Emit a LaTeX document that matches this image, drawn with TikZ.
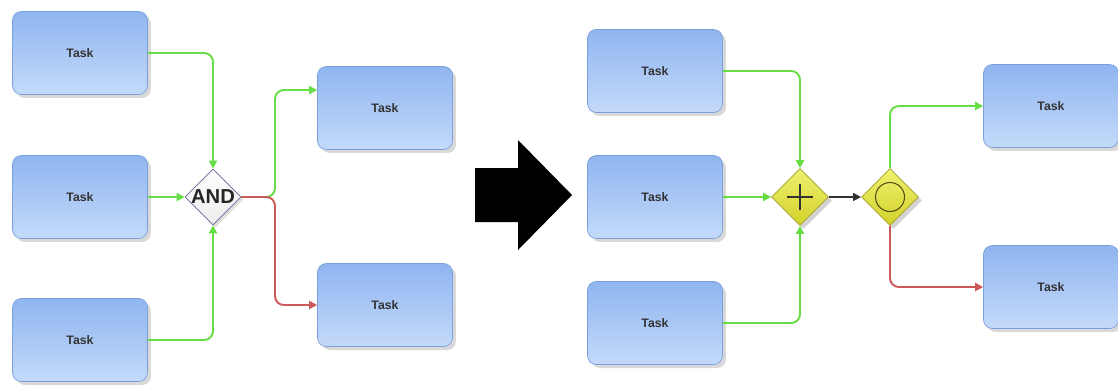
\documentclass[tikz,border=0pt]{standalone}
\usepackage{fontspec}
\setsansfont{Liberation Sans}
\usetikzlibrary{shapes.geometric,shadows,arrows.meta}
\definecolor{taskline}{HTML}{7A9FDC}
\definecolor{tasktop}{HTML}{8FB5F0}
\definecolor{taskbot}{HTML}{C4DAFA}
\definecolor{flowgreen}{HTML}{66DD44}
\definecolor{flowred}{HTML}{CC5A5A}
\definecolor{gatetop}{HTML}{F0F070}
\definecolor{gatebot}{HTML}{D2D22A}
\definecolor{gateedge}{HTML}{A0A028}

\begin{document}
\begin{tikzpicture}[x=0.02cm,y=-0.02cm,
	task/.style={rectangle, rounded corners=5pt, draw=taskline, top color=tasktop, bottom color=taskbot, minimum width=2.7cm, minimum height=1.66cm, font=\sffamily\bfseries\fontsize{7}{8}\selectfont, text=black!80, drop shadow={shadow xshift=0.07cm, shadow yshift=-0.07cm, opacity=0.3}},
	gate/.style={diamond, draw=gateedge, top color=gatetop, bottom color=gatebot, minimum width=1.14cm, minimum height=1.14cm, inner sep=0pt, drop shadow={shadow xshift=0.07cm, shadow yshift=-0.07cm, opacity=0.35}},
	andgate/.style={diamond, draw=gray!80!blue, top color=white, bottom color=gray!15, minimum width=1.12cm, minimum height=1.12cm, inner sep=0pt, drop shadow={shadow xshift=0.05cm, shadow yshift=-0.05cm, opacity=0.25}},
	flow/.style={line width=1.1pt, rounded corners=5pt, -{Triangle[length=1.6mm,width=1.6mm]}}]
		\useasboundingbox (0,0) rectangle (1118,386);
		\node[task] (t1) at (80,53) {Task};
		\node[task] (t2) at (80,197) {Task};
		\node[task] (t3) at (80,340) {Task};
		\node[andgate, label={[font=\sffamily\bfseries\fontsize{11.5}{13}\selectfont, text=black!85]center:AND}] (and) at (213,197) {};
		\node[task] (r1) at (385,108) {Task};
		\node[task] (r2) at (385,305) {Task};
		\coordinate (split) at (275,197);
		\draw[flow, flowgreen] (t1.east) -| (and.north);
		\draw[flow, flowgreen] (t2.east) -- (and.west);
		\draw[flow, flowgreen] (t3.east) -| (and.south);
		\draw[flow, flowgreen] (and.east) -- (split) |- ([yshift=0.36cm]r1.west);
		\draw[flow, flowred] (and.east) -- (split) |- (r2.west);
		\fill (475,168) -- (518,168) -- (518,140) -- (572,195) -- (518,250) -- (518,222) -- (475,222) -- cycle;
		\node[task] (a1) at (655,71) {Task};
		\node[task] (a2) at (655,197) {Task};
		\node[task] (a3) at (655,323) {Task};
		\node[gate] (par) at (800,197) {};
		\node[gate] (evt) at (890,197) {};
		\node[task] (b1) at (1051,106) {Task};
		\node[task] (b2) at (1051,287) {Task};
		\draw[line width=0.9pt, black!80] ([xshift=-0.26cm]par.center) -- ([xshift=0.26cm]par.center);
		\draw[line width=0.9pt, black!80] ([yshift=-0.26cm]par.center) -- ([yshift=0.26cm]par.center);
		\draw[gateedge!50!black, line width=0.6pt] (evt.center) circle (0.29cm);
		\draw[flow, flowgreen] (a1.east) -| (par.north);
		\draw[flow, flowgreen] (a2.east) -- (par.west);
		\draw[flow, flowgreen] (a3.east) -| (par.south);
		\draw[flow, black!80, line width=0.6pt] (par.east) -- (evt.west);
		\draw[flow, flowgreen] (evt.north) |- (b1.west);
		\draw[flow, flowred] (evt.south) |- (b2.west);
\end{tikzpicture}
\end{document}
